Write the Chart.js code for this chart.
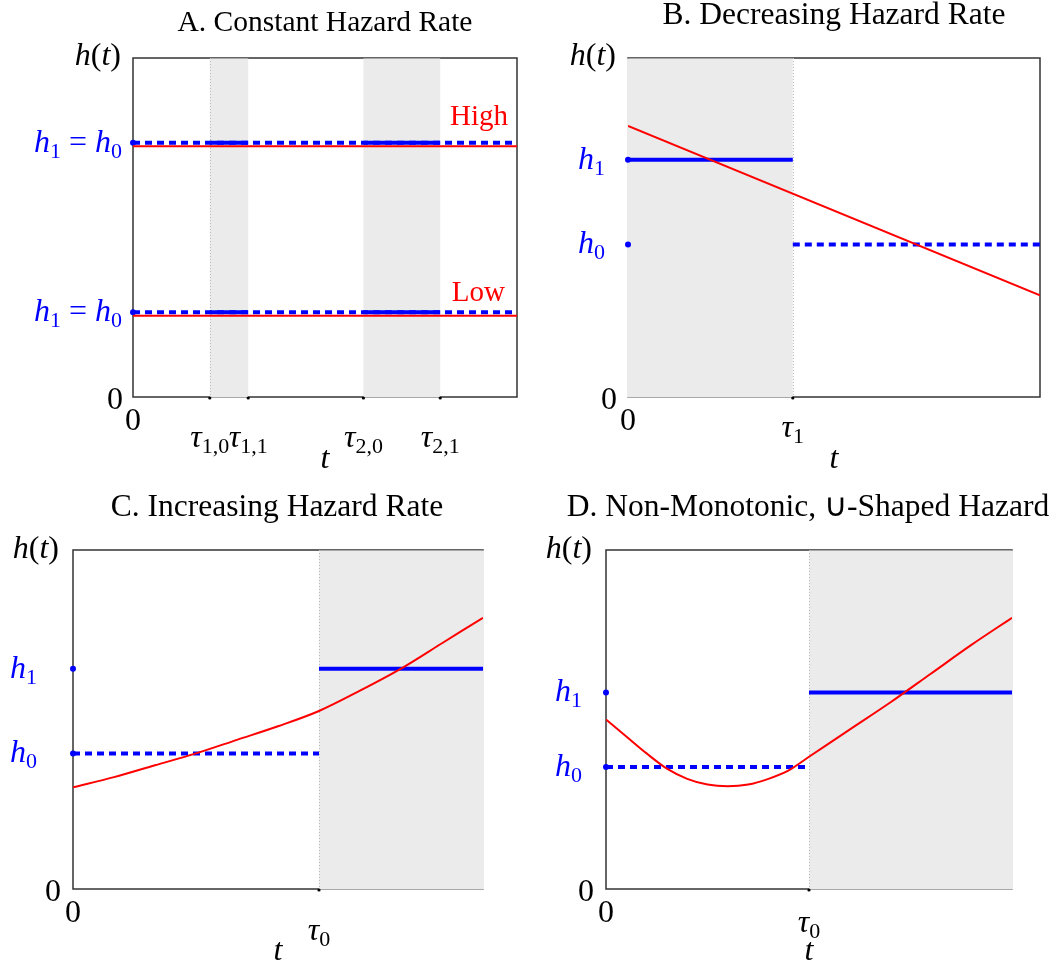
<!DOCTYPE html>
<html>
<head>
<meta charset="utf-8">
<title>Hazard rate shapes</title>
<script src="https://cdn.jsdelivr.net/npm/chart.js@4.4.1/dist/chart.umd.min.js"></script>
<style>
  body { margin: 0; background: #fff; }
  #wrap { position: relative; width: 1060px; height: 966px; }
  canvas { position: absolute; }
</style>
</head>
<body>
<div id="wrap">
  <canvas id="panelA" width="530" height="480" style="left:0;top:0"></canvas>
  <canvas id="panelB" width="530" height="480" style="left:530px;top:0"></canvas>
  <canvas id="panelC" width="530" height="486" style="left:0;top:480px"></canvas>
  <canvas id="panelD" width="530" height="486" style="left:530px;top:480px"></canvas>
</div>
<script>
// ---- data (time runs 0..10, hazard 0..1) ----
// A. constant hazard
const aShade = [[2, 3], [6, 8]];
const aTicks = [2, 3, 6, 8];
const aTickSubs = ["1,0", "1,1", "2,0", "2,1"];
const aLevels = [0.75, 0.25];      // h1 = h0
const aHazard = [0.74, 0.24];      // true hazard
const aLevelNames = ["High", "Low"];

// B. decreasing hazard
const bTime = [0, 10];
const bHazard = [0.80, 0.30];
const bH1 = 0.70, bH0 = 0.45, bTau = 4;

// C. increasing hazard
const cTime = [0, 1, 2, 3, 4, 5, 6, 7, 8, 9, 10];
const cHazard = [0.30, 0.33, 0.365, 0.40, 0.44, 0.48, 0.525, 0.585, 0.65, 0.725, 0.80];
const cH1 = 0.65, cH0 = 0.40, cTau = 6;

// D. U-shaped hazard
const dTime = [0, 0.5, 1, 1.5, 2, 2.5, 3, 3.5, 4, 4.5, 5, 6, 7, 8, 9, 10];
const dHazard = [0.50, 0.45, 0.40, 0.355, 0.325, 0.308, 0.303, 0.308, 0.325, 0.35, 0.39, 0.47, 0.55, 0.635, 0.72, 0.80];
const dH1 = 0.58, dH0 = 0.36, dTau = 5;

const BLUE = "#0000ff", RED = "#ff0000", SHADE = "#ebebeb";
const SERIF = "'Liberation Serif', 'Times New Roman', serif";
const FS = 32, SUBFS = 22, NOTEFS = 29;

// draw a run of text pieces: [text, kind] kind = r (roman), i (italic), s (subscript), n (note), g (gap px)
function drawMath(ctx, parts, x, y, align, color) {
  const fontOf = k => k === "i" ? `italic ${FS}px ${SERIF}` : k === "s" ? `${SUBFS}px ${SERIF}` :
    k === "n" ? `${NOTEFS}px ${SERIF}` : `${FS}px ${SERIF}`;
  let w = 0;
  parts.forEach(([t, k]) => {
    if (k === "g") { w += t; return; }
    ctx.font = fontOf(k);
    w += ctx.measureText(t).width;
  });
  let cx = align === "right" ? x - w : align === "center" ? x - w / 2 : x;
  ctx.fillStyle = color;
  ctx.textAlign = "left";
  ctx.textBaseline = "alphabetic";
  parts.forEach(([t, k]) => {
    if (k === "g") { cx += t; return; }
    ctx.font = fontOf(k);
    ctx.fillText(t, cx, k === "s" ? y + 6 : y);
    cx += ctx.measureText(t).width;
  });
}

const hLabel = sub => [["h", "i"], [sub, "s"]];
const tauLabel = sub => [["τ", "i"], [sub, "s"]];

function hline(x0, x1, y, dashed) {
  return {
    data: [{ x: x0, y: y }, { x: x1, y: y }],
    borderColor: BLUE,
    borderWidth: 4,
    borderDash: dashed ? [7, 5] : [],
    pointRadius: 0
  };
}

function dots(pts) {
  return {
    data: pts,
    showLine: false,
    clip: false,
    pointRadius: 3,
    pointBackgroundColor: BLUE,
    pointBorderColor: BLUE,
    borderWidth: 0
  };
}

function curve(ts, hs) {
  return {
    data: ts.map((t, i) => ({ x: t, y: hs[i] })),
    borderColor: RED,
    borderWidth: 2,
    pointRadius: 0,
    cubicInterpolationMode: "monotone"
  };
}

function framePlugin(cfg) {
  return {
    id: "frame",
    beforeDatasetsDraw(chart) {
      const { ctx, chartArea: a, scales: { x } } = chart;
      ctx.save();
      ctx.strokeStyle = "#333";
      ctx.lineWidth = 1.5;
      ctx.strokeRect(a.left, a.top, a.right - a.left, a.bottom - a.top);
      ctx.fillStyle = SHADE;
      cfg.shade.forEach(([s, e]) => {
        let x0 = x.getPixelForValue(s), x1 = x.getPixelForValue(e);
        if (s <= x.min) x0 -= 1;
        if (e >= x.max) x1 += 1;
        ctx.fillRect(x0, a.top + 0.5, x1 - x0, a.bottom - a.top);
      });
      ctx.strokeStyle = "#bbb";
      ctx.lineWidth = 1;
      ctx.setLineDash([1, 2]);
      cfg.dotted.forEach(v => {
        const px = Math.round(x.getPixelForValue(v)) + 0.5;
        ctx.beginPath();
        ctx.moveTo(px, a.top);
        ctx.lineTo(px, a.bottom);
        ctx.stroke();
      });
      ctx.restore();
    },
    afterDraw(chart) {
      const { ctx, chartArea: a, scales: { x, y } } = chart;
      ctx.save();
      // tick dots on the time axis
      ctx.fillStyle = "#000";
      cfg.ticks.forEach(v => {
        ctx.beginPath();
        ctx.arc(x.getPixelForValue(v), a.bottom + 1, 1.6, 0, Math.PI * 2);
        ctx.fill();
      });
      ctx.font = `${cfg.titleFs}px ${SERIF}`;
      ctx.fillStyle = "#000";
      ctx.textAlign = "center";
      ctx.fillText(cfg.title, cfg.titleX, cfg.titleY);
      drawMath(ctx, [["h", "i"], ["(", "r"], ["t", "i"], [")", "r"]], cfg.htX, a.top + cfg.htDy, "right", "#000");
      drawMath(ctx, [["0", "r"]], cfg.zeroX, a.bottom + 12, "right", "#000");
      drawMath(ctx, [["0", "r"]], a.left, a.bottom + 33, "center", "#000");
      cfg.ticks.forEach((v, i) => {
        drawMath(ctx, tauLabel(cfg.tickSubs[i]), x.getPixelForValue(v), a.bottom + cfg.tauDy, "center", "#000");
      });
      drawMath(ctx, [["t", "i"]], (a.left + a.right) / 2, a.bottom + 71, "center", "#000");
      cfg.yLabels.forEach(([val, parts]) => {
        drawMath(ctx, parts, cfg.yLabX, y.getPixelForValue(val) + 9, "right", BLUE);
      });
      (cfg.notes || []).forEach(([txt, val, dy, rx]) => {
        drawMath(ctx, [[txt, "n"]], rx, y.getPixelForValue(val) + dy, "right", RED);
      });
      ctx.restore();
    }
  };
}

function makePanel(id, datasets, padding, cfg) {
  new Chart(document.getElementById(id), {
    type: "line",
    data: { datasets: datasets },
    options: {
      responsive: false,
      animation: false,
      layout: { padding: padding },
      plugins: { legend: { display: false }, tooltip: { enabled: false } },
      scales: {
        x: { type: "linear", min: 0, max: 10, display: false },
        y: { min: 0, max: 1, display: false }
      }
    },
    plugins: [framePlugin(cfg)]
  });
}

// Panel A
makePanel("panelA", [
  curve([0, 10], [aHazard[0], aHazard[0]]),
  curve([0, 10], [aHazard[1], aHazard[1]]),
  hline(0, 10, aLevels[0], true),
  hline(0, 10, aLevels[1], true),
  ...aShade.map(([s, e]) => hline(s, e, aLevels[0], false)),
  ...aShade.map(([s, e]) => hline(s, e, aLevels[1], false)),
  dots(aLevels.map(v => ({ x: 0, y: v })))
], { left: 133, top: 58, right: 13, bottom: 83 }, {
  title: "A. Constant Hazard Rate", titleX: 325, titleY: 31, titleFs: 29.5,
  shade: aShade, dotted: [aShade[0][0]],
  ticks: aTicks, tickSubs: aTickSubs, tauDy: 50,
  htX: 121, htDy: 7, zeroX: 123, yLabX: 122,
  yLabels: aLevels.map(v => [v, [...hLabel("1"), [" = ", "r"], ...hLabel("0")]]),
  notes: [[aLevelNames[0], aLevels[0], -18, 508], [aLevelNames[1], aLevels[1], -11, 505]]
});

// Panel B
makePanel("panelB", [
  curve(bTime, bHazard),
  hline(0, bTau, bH1, false),
  hline(bTau, 10, bH0, true),
  dots([{ x: 0, y: bH1 }, { x: 0, y: bH0 }])
], { left: 98, top: 58, right: 20, bottom: 83 }, {
  title: "B. Decreasing Hazard Rate", titleX: 304, titleY: 24, titleFs: 31.5,
  shade: [[0, bTau]], dotted: [bTau],
  ticks: [bTau], tickSubs: ["1"], tauDy: 40,
  htX: 86, htDy: 7, zeroX: 87, yLabX: 75,
  yLabels: [[bH1, hLabel("1")], [bH0, hLabel("0")]]
});

// Panel C
makePanel("panelC", [
  curve(cTime, cHazard),
  hline(0, cTau, cH0, true),
  hline(cTau, 10, cH1, false),
  dots([{ x: 0, y: cH1 }, { x: 0, y: cH0 }])
], { left: 73, top: 70, right: 47, bottom: 77 }, {
  title: "C. Increasing Hazard Rate", titleX: 277, titleY: 36, titleFs: 31.5,
  shade: [[cTau, 10]], dotted: [cTau],
  ticks: [cTau], tickSubs: ["0"], tauDy: 51,
  htX: 59, htDy: 8, zeroX: 61, yLabX: 37,
  yLabels: [[cH1, hLabel("1")], [cH0, hLabel("0")]]
});

// Panel D
makePanel("panelD", [
  curve(dTime, dHazard),
  hline(0, dTau, dH0, true),
  hline(dTau, 10, dH1, false),
  dots([{ x: 0, y: dH1 }, { x: 0, y: dH0 }])
], { left: 76, top: 70, right: 48, bottom: 77 }, {
  title: "D. Non-Monotonic, \u222A-Shaped Hazard", titleX: 278, titleY: 36, titleFs: 31.5,
  shade: [[dTau, 10]], dotted: [dTau],
  ticks: [dTau], tickSubs: ["0"], tauDy: 43,
  htX: 62, htDy: 8, zeroX: 64, yLabX: 52,
  yLabels: [[dH1, hLabel("1")], [dH0, hLabel("0")]]
});
</script>
</body>
</html>
